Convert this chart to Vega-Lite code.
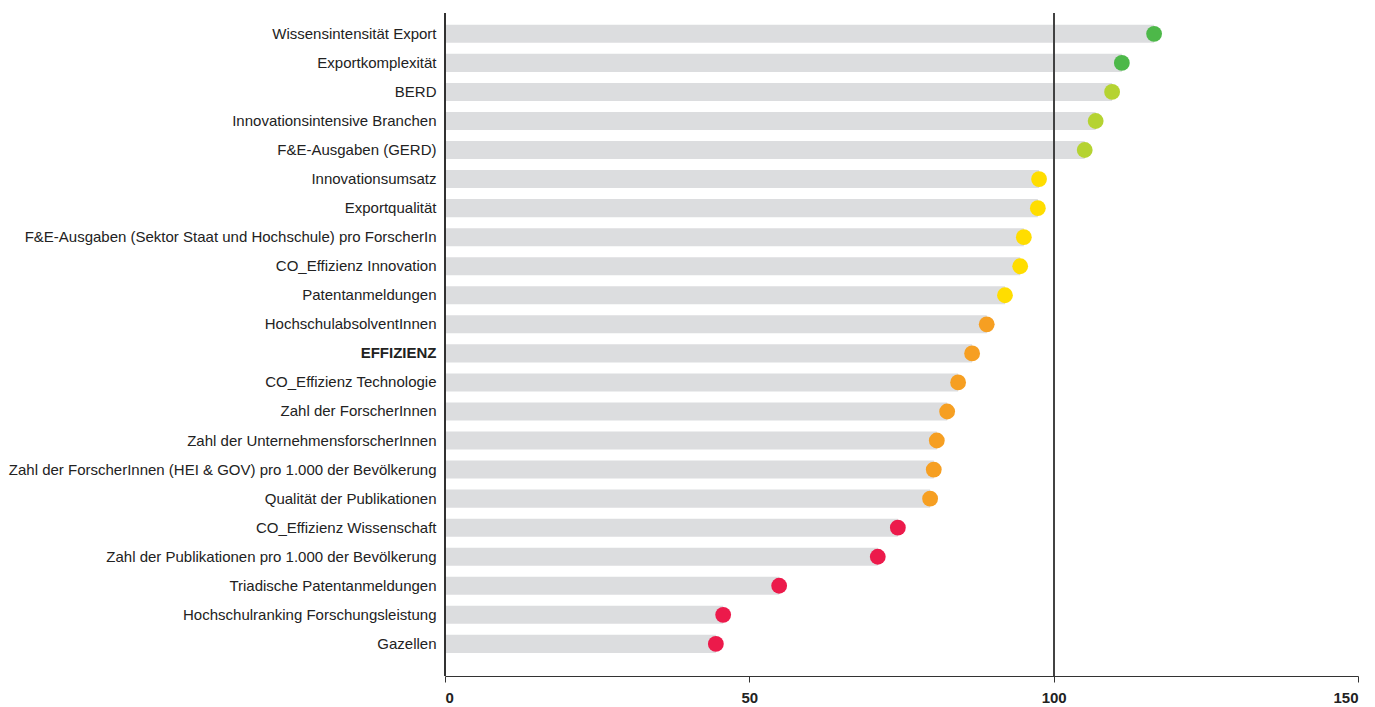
{
  "$schema": "https://vega.github.io/schema/vega-lite/v6.json",
  "width": 913,
  "height": 663,
  "padding": {"left": 8, "top": 12, "right": 5, "bottom": 0},
  "autosize": {"type": "pad"},
  "background": "white",
  "config": {"view": {"stroke": null}, "font": "Liberation Sans"},
  "data": {"values": [
    {"k": "Wissensintensität Export", "v": 116.5, "g": "g1"},
    {"k": "Exportkomplexität", "v": 111.2, "g": "g1"},
    {"k": "BERD", "v": 109.6, "g": "g2"},
    {"k": "Innovationsintensive Branchen", "v": 106.9, "g": "g2"},
    {"k": "F&E-Ausgaben (GERD)", "v": 105.1, "g": "g2"},
    {"k": "Innovationsumsatz", "v": 97.6, "g": "g3"},
    {"k": "Exportqualität", "v": 97.4, "g": "g3"},
    {"k": "F&E-Ausgaben (Sektor Staat und Hochschule) pro ForscherIn", "v": 95.1, "g": "g3"},
    {"k": "CO_Effizienz Innovation", "v": 94.5, "g": "g3"},
    {"k": "Patentanmeldungen", "v": 92.0, "g": "g3"},
    {"k": "HochschulabsolventInnen", "v": 89.0, "g": "g4"},
    {"k": "EFFIZIENZ", "v": 86.6, "g": "g4"},
    {"k": "CO_Effizienz Technologie", "v": 84.3, "g": "g4"},
    {"k": "Zahl der ForscherInnen", "v": 82.5, "g": "g4"},
    {"k": "Zahl der UnternehmensforscherInnen", "v": 80.8, "g": "g4"},
    {"k": "Zahl der ForscherInnen (HEI & GOV) pro 1.000 der Bevölkerung", "v": 80.3, "g": "g4"},
    {"k": "Qualität der Publikationen", "v": 79.7, "g": "g4"},
    {"k": "CO_Effizienz Wissenschaft", "v": 74.4, "g": "g5"},
    {"k": "Zahl der Publikationen pro 1.000 der Bevölkerung", "v": 71.1, "g": "g5"},
    {"k": "Triadische Patentanmeldungen", "v": 54.9, "g": "g5"},
    {"k": "Hochschulranking Forschungsleistung", "v": 45.7, "g": "g5"},
    {"k": "Gazellen", "v": 44.5, "g": "g5"}
  ]},
  "layer": [
    {
      "mark": {"type": "bar", "color": "#dcdddf"},
      "encoding": {
        "y": {
          "field": "k", "type": "nominal", "sort": null, "title": null,
          "scale": {"range": [6.3, 645.4], "paddingInner": 0.38, "paddingOuter": 0.19},
          "axis": {
            "ticks": false, "domain": false, "labelPadding": 9, "labelFontSize": 15, "labelColor": "#222",
            "labelLimit": 600,
            "labelFontWeight": {"condition": {"test": "datum.value === 'EFFIZIENZ'", "value": "bold"}, "value": "normal"}
          }
        },
        "x": {
          "field": "v", "type": "quantitative", "title": null,
          "scale": {"domain": [0, 150], "nice": false, "zero": true},
          "axis": {
            "values": [0, 50, 100, 150], "grid": false, "labelFontSize": 15, "labelFontWeight": "bold",
            "labelColor": "#222", "domainColor": "#333", "tickColor": "#333", "tickSize": 6,
            "labelPadding": 8, "zindex": 1
          }
        }
      }
    },
    {
      "mark": {"type": "rule", "color": "#444", "strokeWidth": 1},
      "encoding": {"x": {"datum": 100, "type": "quantitative"}}
    },
    {
      "mark": {"type": "rule", "color": "#333", "strokeWidth": 1},
      "encoding": {"x": {"datum": 0, "type": "quantitative"}}
    },
    {
      "mark": {"type": "circle", "opacity": 1, "size": 250},
      "encoding": {
        "y": {"field": "k", "type": "nominal", "sort": null},
        "x": {"field": "v", "type": "quantitative"},
        "color": {
          "field": "g", "type": "nominal", "legend": null,
          "scale": {"domain": ["g1", "g2", "g3", "g4", "g5"], "range": ["#4db849", "#b5d332", "#ffdd00", "#f69f22", "#ec1a4b"]}
        }
      }
    }
  ]
}
